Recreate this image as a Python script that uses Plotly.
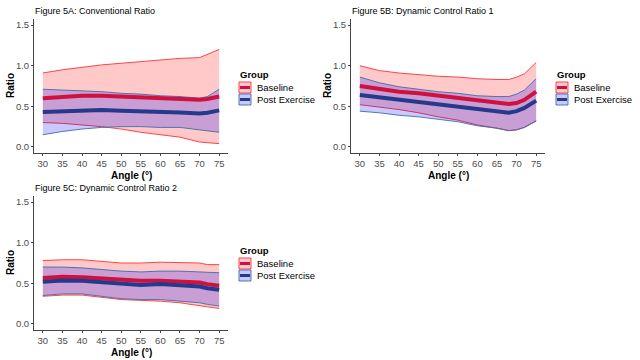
import plotly.graph_objects as go

# ---------------- data ----------------
angles_a = [30, 35, 40, 45, 50, 55, 60, 65, 70, 72, 75]
a_bl_mean = [0.60, 0.62, 0.63, 0.63, 0.62, 0.615, 0.61, 0.60, 0.58, 0.59, 0.62]
a_bl_upper = [0.91, 0.95, 0.98, 1.01, 1.03, 1.05, 1.07, 1.09, 1.10, 1.14, 1.20]
a_bl_lower = [0.30, 0.29, 0.27, 0.25, 0.22, 0.18, 0.15, 0.12, 0.06, 0.05, 0.04]
a_pe_mean = [0.43, 0.44, 0.45, 0.455, 0.445, 0.44, 0.43, 0.425, 0.41, 0.42, 0.45]
a_pe_upper = [0.71, 0.70, 0.69, 0.68, 0.66, 0.65, 0.63, 0.62, 0.60, 0.62, 0.71]
a_pe_lower = [0.15, 0.19, 0.22, 0.24, 0.25, 0.25, 0.24, 0.24, 0.21, 0.20, 0.18]

angles_b = [30, 35, 40, 45, 50, 55, 60, 65, 68, 70, 72, 75]
b_bl_mean = [0.75, 0.71, 0.68, 0.66, 0.63, 0.61, 0.57, 0.54, 0.53, 0.54, 0.58, 0.68]
b_bl_upper = [1.00, 0.94, 0.91, 0.89, 0.87, 0.86, 0.84, 0.83, 0.83, 0.86, 0.90, 1.04]
b_bl_lower = [0.52, 0.49, 0.46, 0.42, 0.37, 0.33, 0.27, 0.23, 0.20, 0.21, 0.24, 0.32]
b_pe_mean = [0.64, 0.61, 0.58, 0.55, 0.52, 0.50, 0.46, 0.43, 0.42, 0.44, 0.48, 0.57]
b_pe_upper = [0.86, 0.79, 0.74, 0.71, 0.68, 0.66, 0.63, 0.62, 0.62, 0.65, 0.70, 0.84]
b_pe_lower = [0.44, 0.42, 0.39, 0.37, 0.34, 0.31, 0.26, 0.23, 0.20, 0.21, 0.24, 0.32]

angles_c = [30, 35, 40, 45, 50, 55, 60, 65, 70, 72, 75]
c_bl_mean = [0.565, 0.58, 0.575, 0.56, 0.54, 0.53, 0.53, 0.52, 0.51, 0.49, 0.47]
c_bl_upper = [0.78, 0.79, 0.79, 0.77, 0.75, 0.75, 0.76, 0.755, 0.75, 0.73, 0.73]
c_bl_lower = [0.34, 0.355, 0.355, 0.33, 0.30, 0.29, 0.28, 0.26, 0.23, 0.21, 0.19]
c_pe_mean = [0.52, 0.535, 0.53, 0.515, 0.49, 0.48, 0.49, 0.475, 0.46, 0.44, 0.42]
c_pe_upper = [0.70, 0.70, 0.69, 0.67, 0.65, 0.64, 0.65, 0.65, 0.64, 0.63, 0.63]
c_pe_lower = [0.35, 0.37, 0.37, 0.34, 0.31, 0.30, 0.30, 0.28, 0.26, 0.24, 0.22]

groups = ["Baseline", "Post Exercise"]
titles = ["Figure 5A: Conventional Ratio", "Figure 5B: Dynamic Control Ratio 1",
          "Figure 5C: Dynamic Control Ratio 2"]
x_title = "Angle (°)"
y_title = "Ratio"
legend_title = "Group"
y_ticks = [0.0, 0.5, 1.0, 1.5]
x_ticks = [30, 35, 40, 45, 50, 55, 60, 65, 70, 75]

# ---------------- style ----------------
W, H = 640, 360
FONT = "Liberation Sans, Arial, sans-serif"
BL_FILL = "rgba(255,0,0,0.21)"
PE_FILL = "rgba(0,0,255,0.21)"
BL_EDGE = "rgba(255,40,40,0.85)"
PE_EDGE = "rgba(60,110,170,0.9)"
BL_LINE = "#D0103F"
PE_LINE = "#263A8C"


def px(x):
    return x / W


def py(y):
    return (H - y) / H


panels = [
    dict(ang=angles_a, blm=a_bl_mean, blu=a_bl_upper, bll=a_bl_lower,
         pem=a_pe_mean, peu=a_pe_upper, pel=a_pe_lower,
         xd=(34, 228), yd=(19, 153), dx=0, dy=0),
    dict(ang=angles_b, blm=b_bl_mean, blu=b_bl_upper, bll=b_bl_lower,
         pem=b_pe_mean, peu=b_pe_upper, pel=b_pe_lower,
         xd=(351, 545), yd=(19, 153), dx=317, dy=0),
    dict(ang=angles_c, blm=c_bl_mean, blu=c_bl_upper, bll=c_bl_lower,
         pem=c_pe_mean, peu=c_pe_upper, pel=c_pe_lower,
         xd=(34, 228), yd=(196, 330), dx=0, dy=176),
]

fig = go.Figure()
annotations = []
shapes = []

for i, p in enumerate(panels):
    sfx = "" if i == 0 else str(i + 1)
    xa, ya = "x" + sfx, "y" + sfx
    common = dict(xaxis=xa, yaxis=ya, showlegend=False, hoverinfo="skip", mode="lines")
    # baseline ribbon
    fig.add_trace(go.Scatter(x=p["ang"], y=p["bll"], line=dict(color=BL_EDGE, width=1), **common))
    fig.add_trace(go.Scatter(x=p["ang"], y=p["blu"], line=dict(color=BL_EDGE, width=1),
                             fill="tonexty", fillcolor=BL_FILL, **common))
    # post ribbon
    fig.add_trace(go.Scatter(x=p["ang"], y=p["pel"], line=dict(color=PE_EDGE, width=1), **common))
    fig.add_trace(go.Scatter(x=p["ang"], y=p["peu"], line=dict(color=PE_EDGE, width=1),
                             fill="tonexty", fillcolor=PE_FILL, **common))
    # means
    fig.add_trace(go.Scatter(x=p["ang"], y=p["blm"], line=dict(color=BL_LINE, width=4), **common))
    fig.add_trace(go.Scatter(x=p["ang"], y=p["pem"], line=dict(color=PE_LINE, width=4), **common))

    axis_common = dict(showline=True, linecolor="#444444", linewidth=1, ticks="outside",
                       ticklen=2, tickcolor="#444444", showgrid=False, zeroline=False,
                       tickfont=dict(family=FONT, size=9.5, color="#4D4D4D"))
    fig.update_layout(**{
        "xaxis" + sfx: dict(domain=[px(p["xd"][0]), px(p["xd"][1])], anchor=ya,
                            range=[27.75, 77.25], tickvals=x_ticks, **axis_common),
        "yaxis" + sfx: dict(domain=[py(p["yd"][1]), py(p["yd"][0])], anchor=xa,
                            range=[-0.075, 1.575], tickvals=y_ticks, tickformat=".1f",
                            **axis_common),
    })

    x0, x1 = p["xd"]
    top, bot = p["yd"]
    # panel title
    annotations.append(dict(text=titles[i], x=px(x0 - 1), y=py(top - 8), xref="paper",
                            yref="paper", xanchor="left", yanchor="middle", showarrow=False,
                            font=dict(family=FONT, size=9, color="#000000")))
    # axis titles
    annotations.append(dict(text="<b>%s</b>" % x_title, x=px((x0 + x1) / 2), y=py(bot + 22),
                            xref="paper", yref="paper", xanchor="center", yanchor="middle",
                            showarrow=False, font=dict(family=FONT, size=10, color="#000000")))
    annotations.append(dict(text="<b>%s</b>" % y_title, x=px(x0 - 24), y=py((top + bot) / 2),
                            xref="paper", yref="paper", xanchor="center", yanchor="middle",
                            textangle=-90, showarrow=False,
                            font=dict(family=FONT, size=10, color="#000000")))
    # legend
    dx, dy = p["dx"], p["dy"]
    annotations.append(dict(text="<b>%s</b>" % legend_title, x=px(238 + dx), y=py(74 + dy),
                            xref="paper", yref="paper", xanchor="left", yanchor="middle",
                            showarrow=False, font=dict(family=FONT, size=9.5, color="#000000")))
    keys = [(groups[0], BL_FILL, BL_EDGE, BL_LINE, 82), (groups[1], PE_FILL, PE_EDGE, PE_LINE, 94)]
    for name, fc, ec, lc, ky in keys:
        kx0, kx1 = 239 + dx, 251 + dx
        ky0, ky1 = ky + dy, ky + 11 + dy
        shapes.append(dict(type="rect", xref="paper", yref="paper", x0=px(kx0), x1=px(kx1),
                           y0=py(ky1), y1=py(ky0), fillcolor=fc, line=dict(color=ec, width=1)))
        shapes.append(dict(type="line", xref="paper", yref="paper", x0=px(kx0 + 1), x1=px(kx1 - 1),
                           y0=py((ky0 + ky1) / 2), y1=py((ky0 + ky1) / 2),
                           line=dict(color=lc, width=3)))
        annotations.append(dict(text=name, x=px(255 + dx), y=py((ky0 + ky1) / 2), xref="paper",
                                yref="paper", xanchor="left", yanchor="middle", showarrow=False,
                                font=dict(family=FONT, size=9.5, color="#000000")))

fig.update_layout(width=W, height=H, margin=dict(l=0, r=0, t=0, b=0),
                  paper_bgcolor="white", plot_bgcolor="white",
                  annotations=annotations, shapes=shapes, showlegend=False)

# remove the default 8px page margin so the 640x360 figure fills the window
fig.write_html("out.html", config={"displayModeBar": False},
               post_script="document.body.style.margin='0px';")
